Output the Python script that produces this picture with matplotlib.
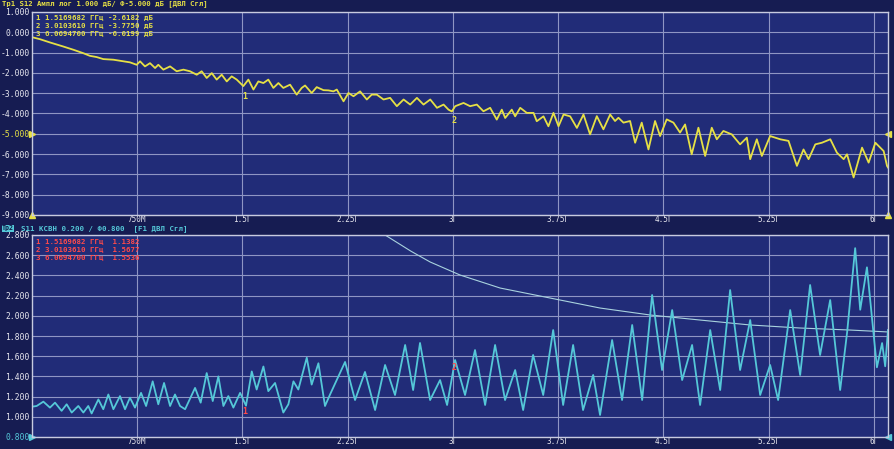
"""VNA screen: S12 log magnitude and S11 VSWR traces"""
import matplotlib
matplotlib.use("Agg")
import matplotlib.pyplot as plt

# S12 trace (GHz, dB)
s12_freq = [0.0, 0.057, 0.128, 0.223, 0.295, 0.366, 0.413, 0.461, 0.508, 0.580,
            0.651, 0.698, 0.746, 0.770, 0.805, 0.841, 0.877, 0.900, 0.936, 0.984,
            1.031, 1.079, 1.126, 1.174, 1.209, 1.245, 1.281, 1.316, 1.352, 1.388,
            1.423, 1.459, 1.506, 1.542, 1.578, 1.613, 1.649, 1.684, 1.720, 1.756,
            1.791, 1.839, 1.886, 1.922, 1.946, 1.993, 2.029, 2.077, 2.112, 2.148,
            2.172, 2.220, 2.255, 2.291, 2.338, 2.386, 2.421, 2.457, 2.505, 2.552,
            2.600, 2.648, 2.695, 2.743, 2.790, 2.838, 2.886, 2.933, 2.968, 2.992,
            3.016, 3.075, 3.122, 3.170, 3.217, 3.265, 3.312, 3.348, 3.372, 3.419,
            3.443, 3.479, 3.526, 3.574, 3.597, 3.645, 3.680, 3.716, 3.752, 3.788,
            3.835, 3.883, 3.930, 3.977, 4.025, 4.072, 4.120, 4.155, 4.179, 4.215,
            4.262, 4.298, 4.345, 4.393, 4.440, 4.476, 4.523, 4.571, 4.618, 4.654,
            4.701, 4.749, 4.797, 4.844, 4.880, 4.927, 4.987, 5.046, 5.094, 5.118,
            5.165, 5.201, 5.260, 5.332, 5.391, 5.451, 5.498, 5.534, 5.582, 5.629,
            5.689, 5.736, 5.784, 5.808, 5.855, 5.915, 5.962, 6.010, 6.069, 6.093,
            6.100]
s12_db = [-0.24, -0.34, -0.50, -0.70, -0.86, -1.03, -1.16, -1.22, -1.32, -1.35,
          -1.43, -1.48, -1.60, -1.43, -1.68, -1.52, -1.76, -1.60, -1.84, -1.68,
          -1.92, -1.84, -1.92, -2.09, -1.92, -2.25, -2.01, -2.33, -2.09, -2.42,
          -2.17, -2.33, -2.65, -2.33, -2.82, -2.42, -2.50, -2.33, -2.74, -2.50,
          -2.74, -2.58, -3.07, -2.74, -2.62, -2.99, -2.70, -2.85, -2.86, -2.91,
          -2.82, -3.40, -2.99, -3.15, -2.91, -3.31, -3.07, -3.07, -3.31, -3.23,
          -3.64, -3.31, -3.56, -3.23, -3.56, -3.31, -3.72, -3.56, -3.81, -3.90,
          -3.64, -3.48, -3.64, -3.56, -3.89, -3.72, -4.30, -3.81, -4.22, -3.81,
          -4.14, -3.72, -3.97, -3.97, -4.38, -4.14, -4.63, -3.97, -4.63, -4.05,
          -4.14, -4.71, -4.05, -5.03, -4.13, -4.78, -4.05, -4.37, -4.21, -4.45,
          -4.37, -5.44, -4.45, -5.77, -4.37, -5.11, -4.29, -4.45, -4.94, -4.54,
          -6.01, -4.70, -6.09, -4.70, -5.27, -4.86, -5.03, -5.52, -5.19, -6.25,
          -5.27, -6.09, -5.11, -5.27, -5.35, -6.58, -5.77, -6.25, -5.52, -5.44,
          -5.27, -5.93, -6.25, -6.01, -7.15, -5.68, -6.42, -5.44, -5.85, -6.58,
          -6.66]

# S11 VSWR trace
swr_freq = [0.0, 0.033, 0.081, 0.128, 0.164, 0.211, 0.247, 0.283, 0.330, 0.366,
            0.401, 0.425, 0.473, 0.508, 0.544, 0.580, 0.627, 0.663, 0.698, 0.734,
            0.777, 0.813, 0.860, 0.900, 0.941, 0.984, 1.019, 1.055, 1.091, 1.162,
            1.202, 1.245, 1.288, 1.328, 1.364, 1.399, 1.435, 1.483, 1.525, 1.566,
            1.601, 1.649, 1.684, 1.732, 1.791, 1.827, 1.863, 1.898, 1.958, 1.993,
            2.041, 2.088, 2.124, 2.231, 2.302, 2.373, 2.445, 2.516, 2.587, 2.659,
            2.716, 2.765, 2.837, 2.908, 2.958, 3.015, 3.086, 3.157, 3.229, 3.300,
            3.371, 3.443, 3.500, 3.571, 3.643, 3.714, 3.785, 3.856, 3.927, 3.999,
            4.048, 4.134, 4.205, 4.277, 4.348, 4.419, 4.490, 4.562, 4.633, 4.704,
            4.761, 4.833, 4.904, 4.975, 5.046, 5.118, 5.189, 5.260, 5.317, 5.403,
            5.474, 5.545, 5.616, 5.688, 5.759, 5.809, 5.866, 5.902, 5.950, 6.021,
            6.058, 6.080, 6.100]
swr_val = [1.10, 1.107, 1.150, 1.091, 1.140, 1.059, 1.124, 1.042, 1.107, 1.042,
           1.107, 1.033, 1.172, 1.075, 1.221, 1.075, 1.205, 1.075, 1.189, 1.091,
           1.237, 1.107, 1.351, 1.124, 1.335, 1.107, 1.221, 1.107, 1.075, 1.286,
           1.140, 1.433, 1.156, 1.400, 1.107, 1.205, 1.091, 1.237, 1.110, 1.449,
           1.270, 1.498, 1.254, 1.335, 1.042, 1.124, 1.351, 1.270, 1.585, 1.319,
           1.530, 1.107, 1.221, 1.543, 1.166, 1.444, 1.067, 1.513, 1.216, 1.711,
           1.265, 1.731, 1.166, 1.364, 1.117, 1.562, 1.216, 1.661, 1.117, 1.711,
           1.166, 1.463, 1.067, 1.612, 1.216, 1.859, 1.117, 1.711, 1.067, 1.414,
           1.018, 1.760, 1.166, 1.909, 1.166, 2.206, 1.463, 2.057, 1.364, 1.711,
           1.117, 1.859, 1.265, 2.255, 1.463, 1.958, 1.216, 1.513, 1.166, 2.057,
           1.414, 2.305, 1.612, 2.156, 1.265, 1.84, 2.67, 2.06, 2.48, 1.49,
           1.73, 1.50, 1.86]

# stored (memory) VSWR trace
mem_freq = [2.516, 2.700, 2.837, 3.050, 3.336, 3.692, 4.048, 4.405, 4.761, 5.118,
            5.474, 5.830, 6.100]
mem_val = [2.80, 2.64, 2.533, 2.404, 2.275, 2.176, 2.077, 2.008, 1.958, 1.909,
           1.879, 1.859, 1.840]

marker_freq = [1.5169682, 3.0103610, 6.0694700]
s12_marker_db = [-2.6182, -3.7750, -6.0199]
swr_marker_val = [1.1382, 1.5677, 1.5536]

x_ticks = [0.75, 1.5, 2.25, 3.0, 3.75, 4.5, 5.25, 6.0]
x_labels = ["750М", "1.5Г", "2.25Г", "3Г", "3.75Г", "4.5Г", "5.25Г", "6Г"]
s12_ticks = [1, 0, -1, -2, -3, -4, -5, -6, -7, -8, -9]
swr_ticks = [2.8, 2.6, 2.4, 2.2, 2.0, 1.8, 1.6, 1.4, 1.2, 1.0, 0.8]

BG = "#161c52"
PLOT_BG = "#212c78"
GRID = "#8f96c4"
YELLOW = "#e6e045"
CYAN = "#55c8d8"
RED = "#ff4a4a"
MONO = "DejaVu Sans Mono"

fig = plt.figure(figsize=(8.95, 4.49), dpi=100, facecolor=BG)
ax1 = fig.add_axes([32 / 895, 1 - 215 / 449, 856 / 895, 203 / 449])
ax2 = fig.add_axes([32 / 895, 1 - 437 / 449, 856 / 895, 202 / 449])


def style_axes(ax, yticks, ylims, fmt):
    ax.set_facecolor(PLOT_BG)
    ax.set_xlim(0, 6.1)
    ax.set_ylim(*ylims)
    ax.set_xticks(x_ticks)
    ax.set_xticklabels(x_labels)
    ax.set_yticks(yticks)
    ax.set_yticklabels([fmt.format(v) for v in yticks])
    ax.grid(True, color=GRID, linewidth=0.8)
    ax.tick_params(axis="y", length=0, pad=1.5, labelsize=5.8, colors="#e8e8f0")
    ax.tick_params(axis="x", length=0, pad=0, labelsize=5.5, colors="#e8e8f0")
    for lab in ax.get_xticklabels() + ax.get_yticklabels():
        lab.set_fontfamily(MONO)
    for sp in ax.spines.values():
        sp.set_color("#c8cbe0")
        sp.set_linewidth(1.0)


style_axes(ax1, s12_ticks, (-9, 1), "{:.3f}")
style_axes(ax2, swr_ticks, (0.8, 2.8), "{:.3f}")
ax1.get_yticklabels()[6].set_color(YELLOW)
ax2.get_yticklabels()[10].set_color(CYAN)

ax1.plot(s12_freq, s12_db, color=YELLOW, linewidth=1.3, solid_joinstyle="round")
ax2.plot(mem_freq, mem_val, color="#a9d3de", linewidth=0.8)
ax2.plot(swr_freq, swr_val, color=CYAN, linewidth=1.3, solid_joinstyle="round")

# reference level triangles
ax1.plot([0], [-5], marker=">", color=YELLOW, markersize=4, clip_on=False)
ax1.plot([6.1], [-5], marker="<", color=YELLOW, markersize=4, clip_on=False)
ax1.plot([0], [-9], marker="^", color=YELLOW, markersize=4, clip_on=False)
ax1.plot([6.1], [-9], marker="^", color=YELLOW, markersize=4, clip_on=False)
ax2.plot([0], [0.8], marker=">", color=CYAN, markersize=4, clip_on=False)
ax2.plot([6.1], [0.8], marker="<", color=CYAN, markersize=4, clip_on=False)

# markers on traces
for i in range(2):
    ax1.annotate(str(i + 1), (marker_freq[i], s12_marker_db[i]), xytext=(0, -8),
                 textcoords="offset points", ha="center", va="center",
                 color=YELLOW, fontsize=6, fontfamily=MONO, fontweight="bold")
    ax2.annotate(str(i + 1), (marker_freq[i], swr_marker_val[i]), xytext=(0, -6),
                 textcoords="offset points", ha="center", va="center",
                 color=RED, fontsize=6, fontfamily=MONO, fontweight="bold")

# channel headers
fig.text(2 / 895, 1 - 4 / 449, "Тр1 S12 Ампл лог 1.000 дБ/ Ф-5.000 дБ [ДВЛ Сгл]",
         color=YELLOW, fontsize=5.2, fontfamily=MONO, fontweight="bold", va="center")
fig.text(2 / 895, 1 - 228.5 / 449, "Тр2", color="#0e1a48", fontsize=4.8,
         fontfamily=MONO, fontweight="bold", va="center",
         bbox=dict(boxstyle="square,pad=0.05", fc=CYAN, ec="none"))
fig.text(21 / 895, 1 - 228.5 / 449, "S11 КСВН 0.200 / Ф0.800  [F1 ДВЛ Сгл]",
         color=CYAN, fontsize=5.3, fontfamily=MONO, fontweight="bold", va="center")

# marker tables
for i in range(3):
    fig.text(36 / 895, 1 - (18 + 8 * i) / 449,
             "{} {:.7f} ГГц {:.4f} дБ".format(i + 1, marker_freq[i], s12_marker_db[i]),
             color=YELLOW, fontsize=5.3, fontfamily=MONO, fontweight="bold", va="center")
    fig.text(36 / 895, 1 - (242 + 8 * i) / 449,
             "{} {:.7f} ГГц  {:.4f}".format(i + 1, marker_freq[i], swr_marker_val[i]),
             color=RED, fontsize=5.3, fontfamily=MONO, fontweight="bold", va="center")

fig.savefig("out.png", dpi=100, facecolor=BG)
